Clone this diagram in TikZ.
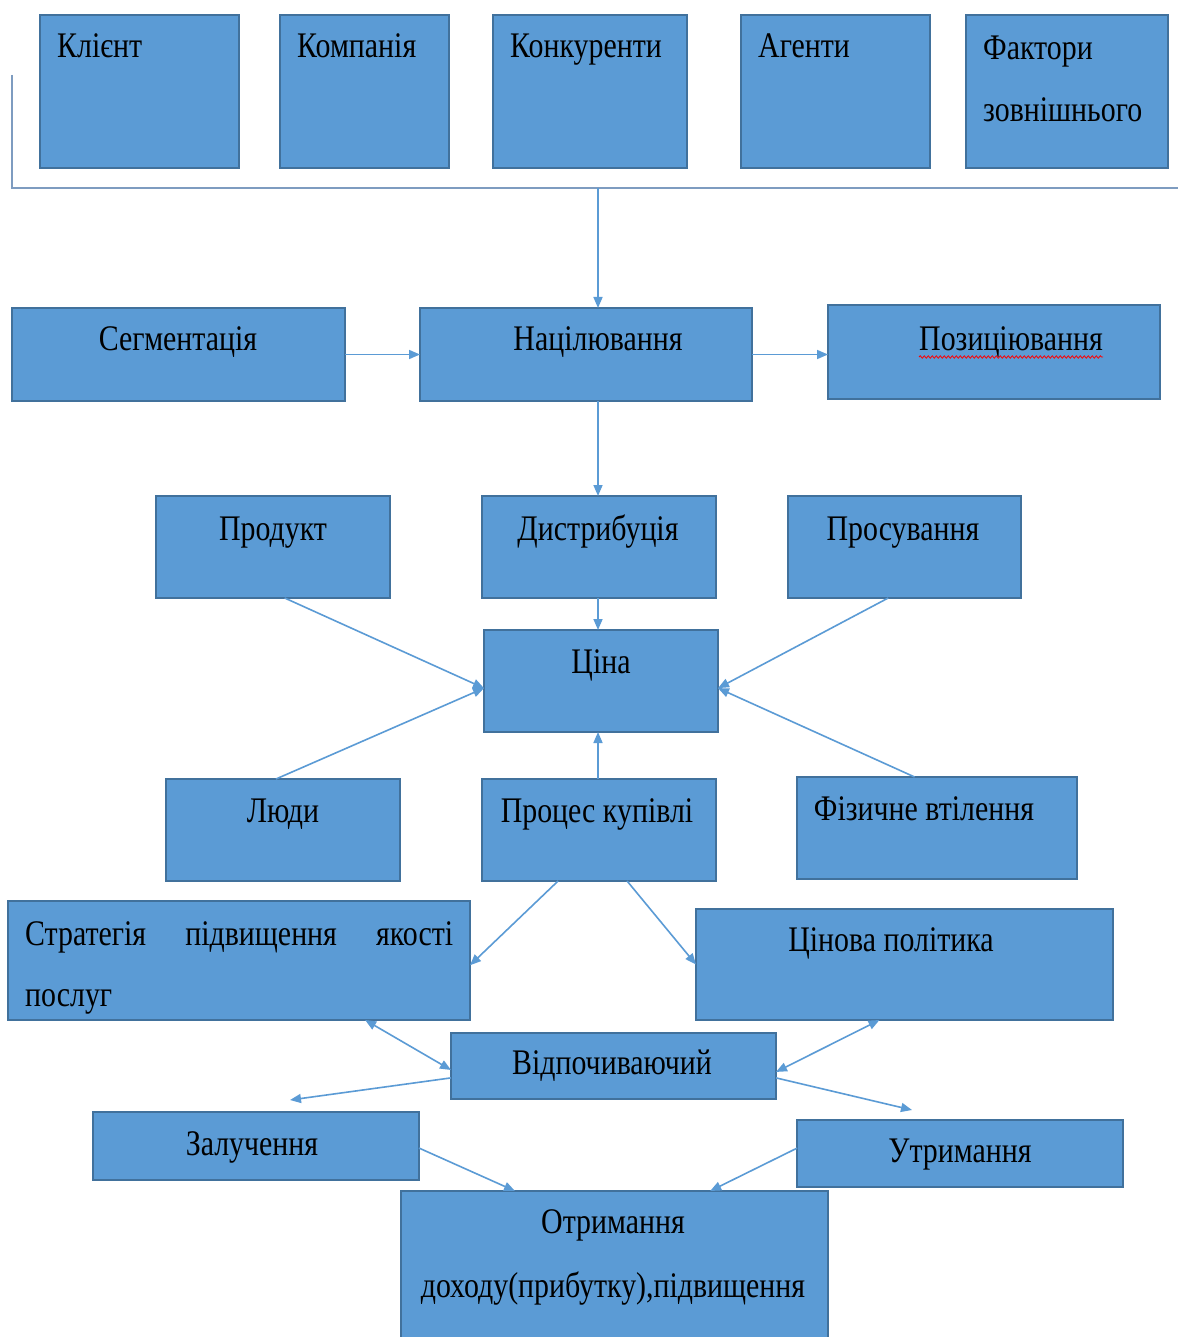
\documentclass[tikz,border=0pt]{standalone}
\usepackage{fontspec}
\setmainfont{Liberation Serif}[FakeStretch=0.83]
\usetikzlibrary{fit,calc,arrows.meta,decorations.pathmorphing}
\definecolor{boxfill}{HTML}{5B9BD5}
\definecolor{boxline}{HTML}{41719C}
\definecolor{conn}{HTML}{5B9BD5}
\definecolor{brk}{HTML}{7E9CC0}
\tikzset{
  box/.style={draw=boxline, fill=boxfill, line width=1.3pt, inner sep=0pt, outer sep=0pt},
  txt/.style={font=\fontsize{36}{61}\selectfont, inner sep=0pt, text=black},
  conline/.style={draw=conn, line width=1.6pt},
  arr/.style={conline, -{Triangle[length=11pt,width=9pt]}},
  darr/.style={conline, {Triangle[length=11pt,width=9pt]}-{Triangle[length=11pt,width=9pt]}},
}
\begin{document}
\begin{tikzpicture}[x=1pt,y=-1pt]
\useasboundingbox[fill=white] (0,0) rectangle (1178,1337);
% top row
\node[box, fit={(40,15) (239,168)}] (kl) {};
\node[box, fit={(280,15) (449,168)}] (ko) {};
\node[box, fit={(493,15) (687,168)}] (kn) {};
\node[box, fit={(741,15) (930,168)}] (ag) {};
\node[box, fit={(966,15) (1168,168)}] (fa) {};
\node[txt, anchor=base west] (tkl) at (57,58) {Клієнт};
\node[txt, anchor=base west] (tko) at (297,58) {Компанія};
\node[txt, anchor=base west] (tkn) at (510,58) {Конкуренти};
\node[txt, anchor=base west] (tag) at (758,58) {Агенти};
\node[txt, anchor=base west] (tfa) at (983,60) {Фактори};
\node[txt, anchor=base west] (tfa2) at (983,122) {зовнішнього};
% bracket
\coordinate (bl) at (12,75);
\coordinate (br) at (1178,188);
\draw[draw=brk, line width=1.2pt] (bl) |- (br);
% row 2
\node[box, fit={(12,308) (345,401)}] (seg) {};
\node[box, fit={(420,308) (752,401)}] (nac) {};
\node[box, fit={(828,305) (1160,399)}] (poz) {};
\node[txt, anchor=base] (tseg) at (178,350) {Сегментація};
\node[txt, anchor=base] (tnac) at (598,350) {Націлювання};
\node[txt, anchor=base] (tpoz) at (1011,350) {Позиціювання};
\draw[red, line width=0.8pt, decorate, decoration={snake, segment length=4pt, amplitude=1.2pt}]
  ($(tpoz.base west)+(0,7)$) -- ($(tpoz.base east)+(0,7)$);
\coordinate (bj) at (598,188);
\draw[arr] (bj) -- (bj |- nac.north);
\draw[arr] (seg.east) -- (seg.east -| nac.west);
\draw[arr] (nac.east) -- (nac.east -| poz.west);
% row 3
\node[box, fit={(156,496) (390,598)}] (pro) {};
\node[box, fit={(482,496) (716,598)}] (dis) {};
\node[box, fit={(788,496) (1021,598)}] (pros) {};
\node[txt, anchor=base] (tpro) at (273,540) {Продукт};
\node[txt, anchor=base] (tdis) at (598,540) {Дистрибуція};
\node[txt, anchor=base] (tpros) at (903,540) {Просування};
\draw[arr] (598,401) coordinate (nd) -- (nd |- dis.north);
% price
\node[box, fit={(484,630) (718,732)}] (cin) {};
\node[txt, anchor=base] (tcin) at (601,673) {Ціна};
\draw[arr] (598,598) coordinate (dd) -- (dd |- cin.north);
\coordinate (cinL) at ($(cin.north west)!0.57!(cin.south west)$);
\coordinate (cinR) at ($(cin.north east)!0.57!(cin.south east)$);
\draw[arr] ($(pro.south west)!0.55!(pro.south east)$) -- (cinL);
\draw[arr] ($(pros.south west)!0.43!(pros.south east)$) -- (cinR);
% row 4
\node[box, fit={(166,779) (400,881)}] (lyu) {};
\node[box, fit={(482,779) (716,881)}] (proc) {};
\node[box, fit={(797,777) (1077,879)}] (fiz) {};
\node[txt, anchor=base] (tlyu) at (283,822) {Люди};
\node[txt, anchor=base] (tproc) at (597,822) {Процес купівлі};
\node[txt, anchor=base] (tfiz) at (924,820) {Фізичне втілення};
\draw[arr] ($(lyu.north west)!0.47!(lyu.north east)$) -- (cinL);
\draw[arr] ($(fiz.north west)!0.42!(fiz.north east)$) -- (cinR);
\draw[arr] (598,779) coordinate (pn) -- (pn |- cin.south);
% row 5
\node[box, fit={(8,901) (470,1020)}] (str) {};
\node[box, fit={(696,909) (1113,1020)}] (pol) {};
\node[txt, anchor=base west] (tstr) at (25,945)
  {\makebox[428pt][s]{Стратегія\hfill підвищення\hfill якості}};
\node[txt, anchor=base west] (tstr2) at (25,1006) {послуг};
\node[txt, anchor=base] (tpol) at (891,951) {Цінова політика};
\draw[arr] ($(proc.south west)!0.325!(proc.south east)$) -- ($(str.north east)!0.54!(str.south east)$);
\draw[arr] ($(proc.south west)!0.62!(proc.south east)$) -- ($(pol.north west)!0.5!(pol.south west)$);
% resting
\node[box, fit={(451,1033) (776,1099)}] (vid) {};
\node[txt, anchor=base] (tvid) at (612,1074) {Відпочиваючий};
\draw[darr] ($(str.south west)!0.773!(str.south east)$) -- ($(vid.north west)!0.56!(vid.south west)$);
\draw[darr] ($(pol.south west)!0.44!(pol.south east)$) -- ($(vid.north east)!0.59!(vid.south east)$);
\coordinate (zalT) at (290,1100);
\coordinate (utrT) at (912,1110);
\draw[arr] ($(vid.north west)!0.68!(vid.south west)$) -- (zalT);
\draw[arr] ($(vid.north east)!0.68!(vid.south east)$) -- (utrT);
% bottom
\node[box, fit={(93,1112) (419,1180)}] (zal) {};
\node[box, fit={(797,1120) (1123,1187)}] (utr) {};
\node[box, fit={(401,1191) (828,1345)}] (otr) {};
\node[txt, anchor=base] (tzal) at (252,1155) {Залучення};
\node[txt, anchor=base] (tutr) at (960,1162) {Утримання};
\node[txt, anchor=base] (totr) at (613,1233) {Отримання};
\node[txt, anchor=base] (totr2) at (613,1297) {доходу(прибутку),підвищення};
\draw[arr] ($(zal.north east)!0.53!(zal.south east)$) -- ($(otr.north west)!0.267!(otr.north east)$);
\draw[arr] ($(utr.north west)!0.42!(utr.south west)$) -- ($(otr.north west)!0.724!(otr.north east)$);
\end{tikzpicture}
\end{document}
